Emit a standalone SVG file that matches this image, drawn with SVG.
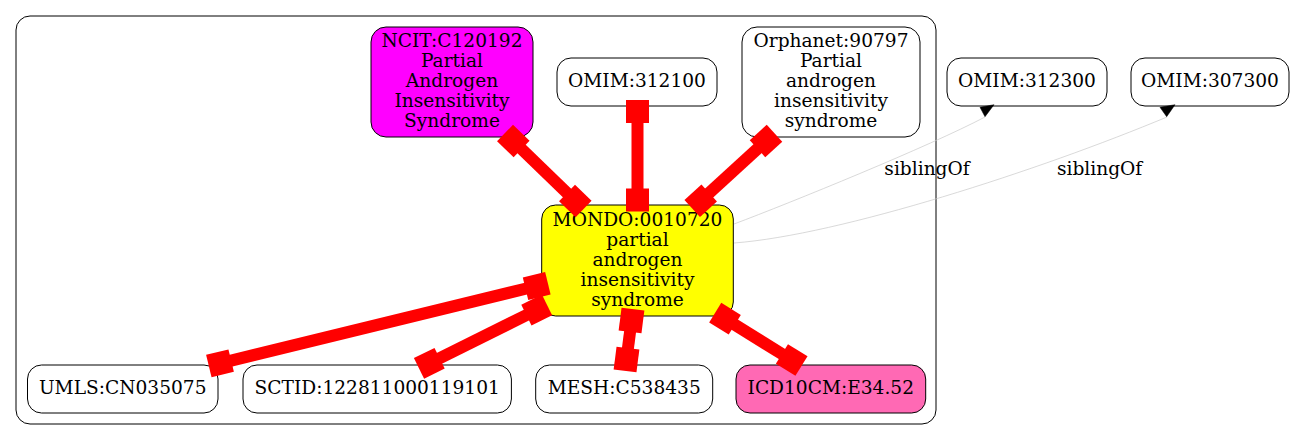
<svg xmlns="http://www.w3.org/2000/svg" xmlns:xlink="http://www.w3.org/1999/xlink" width="1296" height="440" viewBox="0 0 1296 440">
<style>
text{font-family:"DejaVu Serif","Liberation Serif",serif;font-size:18.6px;text-anchor:middle;fill:#000}
.n{stroke:#000;stroke-width:1;fill:#fff}
.cl{fill:none;stroke:#000;stroke-width:1}
.re{stroke:#ff0000;stroke-width:12;fill:none}
.ge{stroke:#c8c8c8;stroke-width:0.7;fill:none}
.ah{fill:#000;stroke:#000;stroke-width:0.5}
</style>
<defs>
<rect id="bx" x="-11.5" y="-11.5" width="23" height="23" fill="#ff0000"/>
</defs>
<rect width="1296" height="440" fill="#fff"/>
<rect class="cl" x="16" y="16" width="920" height="408" rx="14"/>

<g id="ncit">
<rect class="n" x="371" y="27" width="162" height="110" rx="15" fill="#ff00ff" style="fill:#ff00ff"/>
<text x="452" y="46.7">NCIT:C120192</text>
<text x="452" y="66.7">Partial</text>
<text x="452" y="86.7">Androgen</text>
<text x="452" y="106.7">Insensitivity</text>
<text x="452" y="126.7">Syndrome</text>
</g>
<g id="omim312100">
<rect class="n" x="557" y="58" width="160" height="48" rx="14"/>
<text x="637" y="86.7">OMIM:312100</text>
</g>
<g id="orphanet">
<rect class="n" x="742" y="27" width="178" height="110" rx="15"/>
<text x="831" y="46.7">Orphanet:90797</text>
<text x="831" y="66.7">Partial</text>
<text x="831" y="86.7">androgen</text>
<text x="831" y="106.7">insensitivity</text>
<text x="831" y="126.7">syndrome</text>
</g>
<g id="omim312300">
<rect class="n" x="947" y="58" width="160" height="48" rx="14"/>
<text x="1027" y="87">OMIM:312300</text>
</g>
<g id="omim307300">
<rect class="n" x="1131" y="58" width="158" height="48" rx="14"/>
<text x="1210" y="87">OMIM:307300</text>
</g>
<g id="mondo">
<rect class="n" x="541.7" y="205" width="191.6" height="111" rx="14" style="fill:#ffff00"/>
<text x="637.5" y="226">MONDO:0010720</text>
<text x="637.5" y="246">partial</text>
<text x="637.5" y="266">androgen</text>
<text x="637.5" y="286">insensitivity</text>
<text x="637.5" y="306">syndrome</text>
</g>
<g id="umls">
<rect class="n" x="27.5" y="365" width="190.5" height="48" rx="14"/>
<text x="122.7" y="394">UMLS:CN035075</text>
</g>
<g id="sctid">
<rect class="n" x="243" y="365" width="268.4" height="48" rx="14"/>
<text x="377.2" y="394">SCTID:122811000119101</text>
</g>
<g id="mesh">
<rect class="n" x="535.7" y="365" width="177" height="48" rx="14"/>
<text x="624.2" y="394">MESH:C538435</text>
</g>
<g id="icd10cm">
<rect class="n" x="736" y="365" width="189.7" height="48" rx="14" style="fill:#ff69b4"/>
<text x="830.8" y="394">ICD10CM:E34.52</text>
</g>

<g id="connectors">
<g id="e-ncit">
<line class="re" x1="513.3" y1="141" x2="575.3" y2="201"/>
<use xlink:href="#bx" href="#bx" transform="translate(513.3,141) rotate(44)"/>
<use xlink:href="#bx" href="#bx" transform="translate(575.3,201) rotate(44)"/>
</g>
<g id="e-omim312100">
<line class="re" x1="637.5" y1="111.5" x2="637.5" y2="200"/>
<use xlink:href="#bx" href="#bx" transform="translate(637.5,111.5)"/>
<use xlink:href="#bx" href="#bx" transform="translate(637.5,200)"/>
</g>
<g id="e-orphanet">
<line class="re" x1="766" y1="141" x2="700.7" y2="200.7"/>
<use xlink:href="#bx" href="#bx" transform="translate(766,141) rotate(47.6)"/>
<use xlink:href="#bx" href="#bx" transform="translate(700.7,200.7) rotate(47.6)"/>
</g>
<g id="e-umls">
<line class="re" x1="220" y1="363.3" x2="536.7" y2="286"/>
<use xlink:href="#bx" href="#bx" transform="translate(220,363.3) rotate(-13.7)"/>
<use xlink:href="#bx" href="#bx" transform="translate(536.7,286) rotate(-13.7)"/>
</g>
<g id="e-sctid">
<line class="re" x1="429.3" y1="363.3" x2="536.7" y2="310"/>
<use xlink:href="#bx" href="#bx" transform="translate(429.3,363.3) rotate(-26.4)"/>
<use xlink:href="#bx" href="#bx" transform="translate(536.7,310) rotate(-26.4)"/>
</g>
<g id="e-mesh">
<line class="re" x1="631.5" y1="320.5" x2="626.5" y2="359.5"/>
<use xlink:href="#bx" href="#bx" transform="translate(631.5,320.5) rotate(7.3)"/>
<use xlink:href="#bx" href="#bx" transform="translate(626.5,359.5) rotate(7.3)"/>
</g>
<g id="e-icd10cm">
<line class="re" x1="725" y1="318.7" x2="791.7" y2="360"/>
<use xlink:href="#bx" href="#bx" transform="translate(725,318.7) rotate(31.8)"/>
<use xlink:href="#bx" href="#bx" transform="translate(791.7,360) rotate(31.8)"/>
</g>
<g id="e-sib1">
<path class="ge" d="M734,224 C790,203 930,146 985,117"/>
<polygon class="ah" points="980,107.3 994,104.7 985,116.7"/>
<text x="927" y="175">siblingOf</text>
</g>
<g id="e-sib2">
<path class="ge" d="M734,243 C840,235 1040,170 1167,117"/>
<polygon class="ah" points="1160,107.3 1175,104.7 1166.7,116.7"/>
<text x="1099.6" y="175">siblingOf</text>
</g>
</g>
</svg>
